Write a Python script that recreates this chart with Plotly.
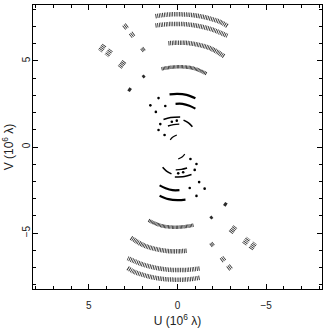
import plotly.graph_objects as go

# uv tracks in units of 10^6 lambda, upper half only;
# the lower half is drawn from the conjugate points (-u, -v)

# long hatched tracks (outer baselines)
arc_u = [
    [1.24, 0.62, 0.0, -0.90, -1.74, -2.42, -2.81],
    [1.24, 0.51, -0.34, -1.18, -2.02, -2.81],
    [0.51, -0.34, -1.18, -1.91, -2.64],
    [0.90, 0.39, -0.17, -0.79, -1.29, -1.63],
]
arc_v = [
    [7.60, 7.69, 7.71, 7.66, 7.49, 7.26, 7.03],
    [7.06, 7.14, 7.14, 7.03, 6.80, 6.46],
    [6.03, 6.06, 5.94, 5.71, 5.26],
    [4.54, 4.63, 4.66, 4.60, 4.43, 4.26],
]

# solid inner tracks (short baselines)
inner_u = [
    [0.45, 0.0, -0.51, -1.01],
    [0.11, -0.28, -0.67, -1.01],
    [0.79, 0.39, -0.15],
    [-0.34, -0.62, -0.84],
    [0.54, 0.22, -0.10],
    [0.41, 0.28, 0.04],
]
inner_v = [
    [3.06, 3.09, 3.03, 2.83],
    [2.51, 2.51, 2.40, 2.23],
    [1.60, 1.71, 1.74],
    [1.56, 1.40, 1.18],
    [1.22, 1.30, 1.33],
    [0.42, 0.57, 0.70],
]

# short hatched pieces of track on the left
seg_u = [
    [2.84, 3.04], [2.47, 2.67], [4.13, 4.37], [3.76, 4.00],
    [3.00, 3.26], [1.87, 2.03], [1.85, 1.97], [2.64, 2.76],
]
seg_v = [
    [7.07, 6.91], [6.59, 6.43], [5.92, 5.58], [5.64, 5.30],
    [4.97, 4.63], [5.73, 5.59], [4.15, 4.05], [3.42, 3.24],
]

# isolated samples
dot_u = [1.07, 1.53, 0.69, 1.22, 0.32, 0.04, 0.97, 1.07, 0.73]
dot_v = [2.84, 2.42, 2.38, 2.04, 1.47, 1.53, 1.33, 0.99, 0.70]

arc_width = [4.5, 4.5, 4.5, 3.5]
arc_dash = ["0.8px,0.9px", "0.8px,0.9px", "0.8px,0.8px", "0.8px,0.5px"]
inner_width = [2.2, 2.2, 1.6, 1.6, 1.4, 1.2]
seg_width = [5, 5, 5, 5, 5, 4, 3, 3]
seg_dash = ["0.8px,0.9px"] * 5 + ["0.8px,0.6px", "solid", "solid"]

fig = go.Figure()


def add_track(u, v, width, dash, color, shape="spline"):
    for sign in (1, -1):
        fig.add_trace(go.Scatter(
            x=[sign * a for a in u], y=[sign * b for b in v],
            mode="lines",
            line=dict(color=color, width=width, dash=dash, shape=shape),
            hoverinfo="skip",
        ))


for u, v, w, d in zip(arc_u, arc_v, arc_width, arc_dash):
    add_track(u, v, w, d, "#2a2a2a")
for u, v, w in zip(inner_u, inner_v, inner_width):
    add_track(u, v, w, "solid", "black")
for u, v, w, d in zip(seg_u, seg_v, seg_width, seg_dash):
    add_track(u, v, w, d, "#2a2a2a", shape="linear")

fig.add_trace(go.Scatter(
    x=dot_u + [-a for a in dot_u], y=dot_v + [-b for b in dot_v],
    mode="markers", marker=dict(color="black", size=2.6),
    hoverinfo="skip",
))

axis_style = dict(
    showgrid=False, zeroline=False,
    showline=True, linecolor="black", linewidth=1, mirror="ticks",
    ticks="inside", ticklen=5, tickcolor="black", tickwidth=1,
    dtick=5, tick0=0,
    minor=dict(ticks="inside", ticklen=3, dtick=1, tickcolor="black", tickwidth=1),
    tickfont=dict(size=10, color="#222"),
)

fig.update_layout(
    width=327, height=329, autosize=False,
    margin=dict(l=33, r=4, t=4, b=36),
    paper_bgcolor="white", plot_bgcolor="white",
    showlegend=False,
    font=dict(family="Liberation Sans, Arial, sans-serif", size=10, color="#222"),
    xaxis=dict(axis_style, range=[8.15, -8.15], ticklabelstandoff=7,
               title=dict(text="U (10<sup>6</sup> λ)", standoff=6)),
    yaxis=dict(axis_style, range=[-8.25, 8.25], tickangle=-90, ticklabelstandoff=-2,
               title=dict(text="V (10<sup>6</sup> λ)", standoff=7)),
)

fig.write_html("out.html", config={"displayModeBar": False},
               post_script="document.body.style.margin='0';")
